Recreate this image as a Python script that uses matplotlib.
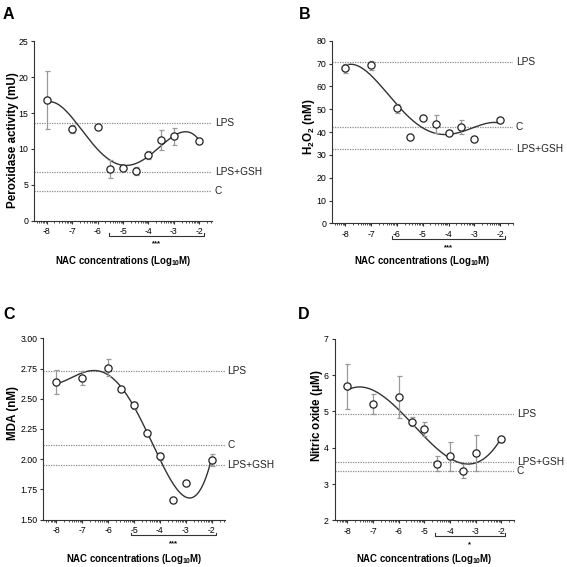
import numpy as np
import matplotlib
matplotlib.use("Agg")
import matplotlib.pyplot as plt

plt.rcParams['font.family'] = ['Liberation Sans', 'DejaVu Sans']
plt.rcParams['mathtext.fontset'] = 'custom'
plt.rcParams['mathtext.rm'] = 'Liberation Sans'
plt.rcParams['mathtext.bf'] = 'Liberation Sans:bold'

# ---------------- data ----------------
conc = [-8, -7, -6, -5.5, -5, -4.5, -4, -3.5, -3, -2]

a_mean = [16.8, 12.8, 13.0, 7.15, 7.4, 6.9, 9.15, 11.2, 11.75, 11.1]
a_err = [4.0, 0.6, 0.0, 1.25, 0.3, 0.6, 0.6, 1.4, 1.2, 0.3]
a_refs = {"LPS": 13.66, "LPS+GSH": 6.74, "C": 4.18}

b_mean = [68.0, 69.2, 50.4, 37.7, 46.1, 43.5, 39.4, 42.2, 37.2, 45.1]
b_err = [2.0, 2.0, 2.0, 0.0, 0.0, 3.8, 0.0, 2.9, 0.0, 0.0]
b_refs = {"LPS": 70.7, "C": 42.4, "LPS+GSH": 32.4}

c_mean = [2.637, 2.670, 2.755, 2.582, 2.447, 2.213, 2.023, 1.665, 1.803, 1.995]
c_err = [0.10, 0.06, 0.07, 0.01, 0.03, 0.01, 0.03, 0.0, 0.0, 0.05]
c_refs = {"LPS": 2.733, "C": 2.114, "LPS+GSH": 1.954}

d_mean = [5.70, 5.20, 5.41, 4.72, 4.52, 3.56, 3.76, 3.35, 3.86, 4.23]
d_err = [0.62, 0.28, 0.58, 0.13, 0.20, 0.21, 0.39, 0.19, 0.50, 0.08]
d_refs = {"LPS": 4.94, "LPS+GSH": 3.61, "C": 3.35}

panel_letters = ["A", "B", "C", "D"]
ylabels = ["Peroxidase activity (mU)", r"H$_\mathbf{2}$O$_\mathbf{2}$ (nM)", "MDA (nM)",
           r"Nitric oxide ($\mathbf{\mu}$M)"]
yticks = [[0, 5, 10, 15, 20, 25],
          [0, 10, 20, 30, 40, 50, 60, 70, 80],
          [1.50, 1.75, 2.00, 2.25, 2.50, 2.75, 3.00],
          [2, 3, 4, 5, 6, 7]]
ytick_fmt = ["{:.0f}", "{:.0f}", "{:.2f}", "{:.0f}"]
fit_degree = [4, 4, 4, 3]
bracket_span = [(-5.55, -1.8), (-6.2, -1.8), (-5.1, -1.82), (-4.6, -1.85)]
stars = ["***", "***", "***", "*"]
xticks = [-8, -7, -6, -5, -4, -3, -2]
xlabel = r"NAC concentrations (Log$_\mathbf{10}$M)"

means = [a_mean, b_mean, c_mean, d_mean]
errs = [a_err, b_err, c_err, d_err]
refs = [a_refs, b_refs, c_refs, d_refs]

axes_pos = [[0.060, 0.611, 0.314, 0.316],
            [0.586, 0.606, 0.319, 0.322],
            [0.0764, 0.0834, 0.320, 0.320],
            [0.590, 0.0823, 0.317, 0.320]]
letter_pos = [(0.005, 0.988), (0.527, 0.988), (0.006, 0.459), (0.526, 0.459)]
ylabel_xy = [(-0.12, 0.45), (-0.128, 0.53), (-0.165, 0.587), (-0.10, 0.576)]
xlabel_y = [-0.226, -0.206, -0.216, -0.213]

fig = plt.figure(figsize=(5.67, 5.67), dpi=100)

minor = [d + np.log10(k) for d in range(-9, -1) for k in range(2, 10)]

for i in range(4):
    ax = fig.add_axes(axes_pos[i])
    x = np.array(conc)
    y = np.array(means[i])
    e = np.array(errs[i])
    ax.set_xlim(-8.5, -1.5)
    ax.set_ylim(yticks[i][0], yticks[i][-1])

    for lab, val in refs[i].items():
        ax.axhline(val, color="#8a8a8a", lw=0.9, ls=(0, (1, 1)), zorder=1)
        ax.text(1.015, val, lab, transform=ax.get_yaxis_transform(),
                va="center", ha="left", fontsize=7.3, color="#222")

    coef = np.polyfit(x, y, fit_degree[i])
    xs = np.linspace(-8, -2, 300)
    ax.plot(xs, np.polyval(coef, xs), color="#333333", lw=1.0, zorder=2)

    ax.errorbar(x, y, yerr=e, fmt="none", ecolor="#999999", elinewidth=0.9,
                capsize=1.8, capthick=0.9, zorder=3)
    ax.plot(x, y, "o", ms=5.2, mfc="white", mec="#222222", mew=0.9, zorder=4)

    ax.spines["top"].set_visible(False)
    ax.spines["right"].set_visible(False)
    for s in ("left", "bottom"):
        ax.spines[s].set_linewidth(0.8)
        ax.spines[s].set_color("#333")
    ax.set_yticks(yticks[i])
    ax.set_yticklabels([ytick_fmt[i].format(v) for v in yticks[i]])
    ax.set_xticks(xticks)
    ax.set_xticklabels([str(v) for v in xticks])
    ax.set_xticks([m for m in minor if -8.5 <= m <= -1.5], minor=True)
    ax.tick_params(axis="both", which="major", labelsize=6.3, length=2.2, width=0.8,
                   color="#333", pad=2)
    ax.tick_params(axis="x", which="major", pad=2.6)
    ax.tick_params(axis="x", which="minor", length=1.3, width=0.6, color="#333")
    ax.set_ylabel(ylabels[i], fontsize=8.4, fontweight="bold", va="center")
    ax.yaxis.set_label_coords(*ylabel_xy[i])
    ax.set_xlabel(xlabel, fontsize=6.9, fontweight="bold", va="center")
    ax.xaxis.set_label_coords(0.5, xlabel_y[i])

    # significance bracket
    x0, x1 = bracket_span[i]
    tr = ax.get_xaxis_transform()
    yb = -0.087
    ax.plot([x0, x0, x1, x1], [yb + 0.016, yb, yb, yb + 0.016], transform=tr,
            color="#333", lw=0.8, clip_on=False)
    ax.text((x0 + x1) / 2, yb - 0.045, stars[i], transform=tr, ha="center",
            va="center", fontsize=5.5, fontweight="bold")

    fig.text(letter_pos[i][0], letter_pos[i][1], panel_letters[i], fontsize=11.5,
             fontweight="bold", ha="left", va="top")

fig.savefig("out.png", dpi=100)
